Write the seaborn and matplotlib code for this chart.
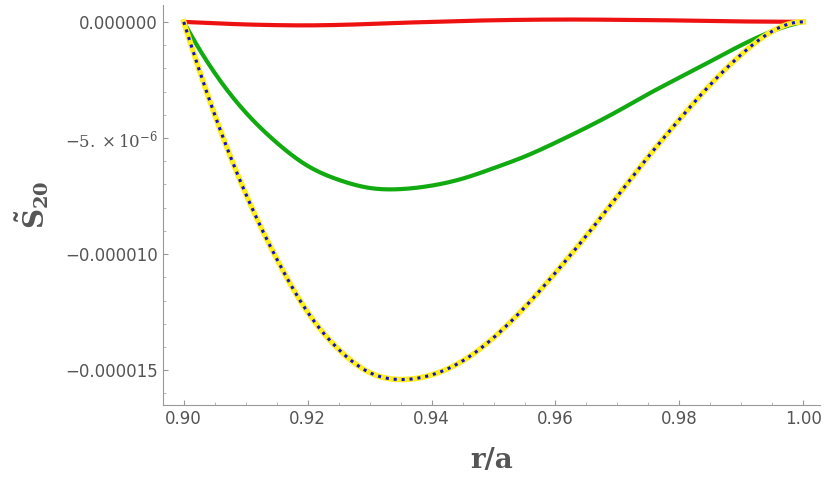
import numpy as np
import pandas as pd
import matplotlib
matplotlib.use("Agg")
import matplotlib.pyplot as plt
import seaborn as sns
from matplotlib.ticker import FixedLocator, FixedFormatter, MultipleLocator

r = [0.90 + 0.005 * i for i in range(21)]
yellow = [0, -4.0, -7.4, -10.2, -12.5, -14.1, -15.1, -15.4, -15.2, -14.6, -13.6,
          -12.3, -10.8, -9.2, -7.5, -5.8, -4.2, -2.7, -1.4, -0.4, 0]
green = [0, -2.2, -3.9, -5.2, -6.2, -6.8, -7.15, -7.2, -7.05, -6.75, -6.3,
         -5.8, -5.2, -4.55, -3.85, -3.1, -2.4, -1.7, -1.0, -0.4, 0]
red = [0, -0.06, -0.11, -0.14, -0.15, -0.13, -0.09, -0.04, 0.0, 0.04, 0.07,
       0.09, 0.1, 0.1, 0.09, 0.08, 0.06, 0.04, 0.02, 0.01, 0]
yticks = [0, -5e-6, -10e-6, -15e-6]
ytick_labels = ["0.000000", r"$-5.\times10^{-6}$", "\u22120.000010", "\u22120.000015"]

def smooth(x, y):
    xs = np.linspace(x[0], x[-1], 400)
    try:
        from scipy.interpolate import CubicSpline
        ys = CubicSpline(x, y)(xs)
    except Exception:
        ys = np.interp(xs, x, y)
        k = np.ones(15) / 15
        pad = np.pad(ys, 7, mode="edge")
        ys = np.convolve(pad, k, mode="valid")
    return xs, ys * 1e-6

plt.rcParams["mathtext.fontset"] = "dejavuserif"
fig = plt.figure(figsize=(8.3, 4.94), dpi=100)
ax = fig.add_axes([0.196, 0.18, 0.792, 0.81])
gray = "#555555"
for y, col, lw, ls in [(green, "#11aa11", 3, "-"), (red, "#ee1111", 3, "-"),
                       (yellow, "#ffee22", 4, "-"), (yellow, "#1111cc", 2.2, (0, (1, 1.6)))]:
    xs, ys = smooth(r, y)
    sns.lineplot(x=xs, y=ys, ax=ax, color=col, lw=lw, linestyle=ls)
ax.set_xlim(0.8966, 1.0027)
ax.set_ylim(-16.5e-6, 0.73e-6)
ax.yaxis.set_major_locator(FixedLocator(yticks))
ax.yaxis.set_major_formatter(FixedFormatter(ytick_labels))
ax.yaxis.set_minor_locator(MultipleLocator(1e-6))
ax.xaxis.set_major_locator(MultipleLocator(0.02))
ax.xaxis.set_minor_locator(MultipleLocator(0.005))
ax.xaxis.set_major_formatter(matplotlib.ticker.FormatStrFormatter("%.2f"))
for s in ["top", "right"]:
    ax.spines[s].set_visible(False)
for s in ["left", "bottom"]:
    ax.spines[s].set_color("#999999")
ax.tick_params(which="both", direction="in", colors="#999999", labelcolor=gray, labelsize=12)
ax.tick_params(which="minor", colors="#aaaaaa")
ax.set_xlabel("r/a", fontsize=20, fontweight="bold", family="DejaVu Serif", color=gray, labelpad=14)
ax.set_ylabel(r"$\mathbf{\tilde{S}_{20}}$", fontsize=20, color=gray, labelpad=10)
fig.savefig("out.png", dpi=100)
